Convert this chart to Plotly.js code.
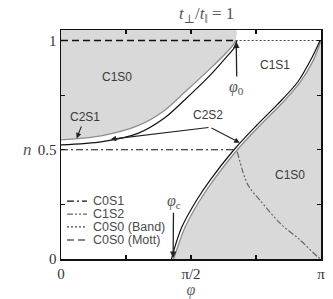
<!DOCTYPE html>
<html><head><meta charset="utf-8">
<script src="https://cdn.plot.ly/plotly-3.0.1.min.js"></script>
<style>html,body{margin:0;padding:0;background:#fff}#chart{width:333px;height:299px}</style>
</head><body><div id="chart"></div>
<script>
const PI = Math.PI;
const N_TOP = 1.048;
// upper-left C1S0 boundary (gray edge of shaded region) and the black line beside it
const phiUpperGray = [0, 0.5, 0.93, 1.25, 1.5, 1.8, 2.0, 2.08, 2.11];
const nUpperGray   = [0.545, 0.565, 0.61, 0.68, 0.765, 0.87, 0.945, 0.98, 1.0];
const phiUpperBlack = [0, 0.5, 0.93, 1.25, 1.5, 1.8, 2.0, 2.1, 2.125];
const nUpperBlack   = [0.522, 0.537, 0.575, 0.645, 0.73, 0.84, 0.925, 0.97, 1.0];
// lower-right C1S0 boundary (gray edge) and black line beside it
const phiRightGray = [1.36, 1.41, 1.5, 1.68, 1.84, 2.13, 2.4, 2.65, 2.89, 3.05, PI];
const nRightGray   = [0, 0.055, 0.146, 0.27, 0.36, 0.50, 0.61, 0.705, 0.81, 0.91, 1.0];
const phiRightBlack = [1.335, 1.38, 1.46, 1.64, 1.80, 2.09, 2.36, 2.61, 2.86, 3.03, 3.13];
const nRightBlack   = [0, 0.06, 0.146, 0.27, 0.36, 0.50, 0.61, 0.705, 0.81, 0.92, 1.0];
// phase lines
const phiC0S1 = [0, 2.09];
const nC0S1   = [0.5, 0.5];
const phiC1S2 = [2.13, 2.26, 2.405, 2.646, 2.888, 3.105, PI];
const nC1S2   = [0.49, 0.338, 0.269, 0.164, 0.087, 0.009, 0];
const phiMott = [0, 2.11];
const nMott   = [1, 1];
const phiBand = [2.11, PI];
const nBand   = [1, 1];
const seriesNames = ['C0S1', 'C1S2', 'C0S0 (Band)', 'C0S0 (Mott)'];
const xTickVals = [0, PI/2, PI];
const xTickText = ['0', 'π/2', 'π'];
const xMinorVals = [PI/4, 3*PI/4];
const yTickVals = [0, 0.5, 1];
const yTickText = ['0', '0.5', '1'];
const yMinorVals = [0.25, 0.75];
const titleText = '<i>t</i><sub>⊥</sub>/<i>t</i><sub>‖</sub> = 1';

const GRAYFILL = '#d9d9d9';
const GRAYLINE = '#8c8c8c';
const SM = 0.9;

const traces = [
  { // upper-left shaded region
    x: phiUpperGray.concat([phiUpperGray[phiUpperGray.length-1], 0]),
    y: nUpperGray.concat([N_TOP, N_TOP]),
    fill: 'toself', fillcolor: GRAYFILL, mode: 'lines',
    line: {width: 0, shape: 'spline', smoothing: SM}, hoverinfo: 'skip', showlegend: false
  },
  { x: phiUpperGray, y: nUpperGray, mode: 'lines', line: {color: GRAYLINE, width: 1.3, shape: 'spline', smoothing: SM}, showlegend: false },
  { x: phiUpperBlack, y: nUpperBlack, mode: 'lines', line: {color: '#111', width: 1.2, shape: 'spline', smoothing: SM}, showlegend: false },
  { // lower-right shaded region
    x: phiRightGray.concat([PI]),
    y: nRightGray.concat([0]),
    fill: 'toself', fillcolor: GRAYFILL, mode: 'lines',
    line: {width: 0, shape: 'spline', smoothing: SM}, hoverinfo: 'skip', showlegend: false
  },
  { x: phiRightGray, y: nRightGray, mode: 'lines', line: {color: GRAYLINE, width: 1.3, shape: 'spline', smoothing: SM}, showlegend: false },
  { x: phiRightBlack, y: nRightBlack, mode: 'lines', line: {color: '#111', width: 1.2, shape: 'spline', smoothing: SM}, showlegend: false },
  { x: phiC0S1, y: nC0S1, mode: 'lines', name: seriesNames[0], line: {color: '#111', width: 1.2, dash: '7px,3px,2px,3px'}, showlegend: false },
  { x: phiC1S2, y: nC1S2, mode: 'lines', name: seriesNames[1], line: {color: '#666', width: 1.2, dash: '6px,2px,2px,2px,2px,2px', shape: 'spline', smoothing: SM}, showlegend: false },
  { x: phiBand, y: nBand, mode: 'lines', name: seriesNames[2], line: {color: '#444', width: 1.2, dash: '2px,2px'}, showlegend: false },
  { x: phiMott, y: nMott, mode: 'lines', name: seriesNames[3], line: {color: '#111', width: 1.4, dash: '7px,4px'}, showlegend: false }
];

// manual compact legend (paper coordinates)
const legDash = ['7px,3px,2px,3px', '6px,2px,2px,2px,2px,2px', '2px,2px', '7px,4px'];
const legColor = ['#111', '#666', '#444', '#111'];
const legY = [0.253, 0.196, 0.140, 0.083];
const shapes = [];
const annotations = [];
for (let i = 0; i < seriesNames.length; i++) {
  shapes.push({type: 'line', xref: 'paper', yref: 'paper', x0: 0.023, x1: 0.10, y0: legY[i], y1: legY[i],
    line: {color: legColor[i], width: 1.2, dash: legDash[i]}});
  annotations.push({xref: 'paper', yref: 'paper', x: 0.117, y: legY[i], xanchor: 'left', yanchor: 'middle',
    text: seriesNames[i], showarrow: false, font: {family: 'Liberation Sans, Arial', size: 12.5, color: '#4a4a4a'}});
}
const labFont = {family: 'Liberation Sans, Arial', size: 12, color: '#3a3a3a'};
const greekFont = {family: 'Liberation Serif, Times New Roman', size: 16, color: '#555'};
annotations.push(
  // chart title
  {xref: 'paper', yref: 'paper', x: 0.446, y: 1.066, xanchor: 'left', yanchor: 'middle', text: titleText, showarrow: false,
    font: {family: 'Liberation Serif, DejaVu Serif, Times New Roman', size: 17, color: '#555'}},
  {x: 0.677, y: 0.831, text: 'C1S0', showarrow: false, font: labFont},
  {x: 2.586, y: 0.886, text: 'C1S1', showarrow: false, font: labFont},
  {x: 2.767, y: 0.384, text: 'C1S0', showarrow: false, font: labFont},
  {x: 1.776, y: 0.66, text: 'C2S2', showarrow: false, font: labFont},
  // labels with arrows
  {x: 0.19, y: 0.552, ax: 0.29, ay: 0.65, axref: 'x', ayref: 'y', text: 'C2S1', font: labFont,
    showarrow: true, arrowhead: 2, arrowsize: 1, arrowwidth: 1.1, arrowcolor: '#222', standoff: 0, startstandoff: 1},
  {x: 2.117, y: 0.995, ax: 2.125, ay: 0.785, axref: 'x', ayref: 'y', text: '<i>φ</i><sub>0</sub>', font: greekFont,
    showarrow: true, arrowhead: 2, arrowsize: 1, arrowwidth: 1.3, arrowcolor: '#222'},
  {x: 1.355, y: 0.005, ax: 1.36, ay: 0.262, axref: 'x', ayref: 'y', text: '<i>φ</i><sub>c</sub>', font: greekFont,
    showarrow: true, arrowhead: 2, arrowsize: 1, arrowwidth: 1.3, arrowcolor: '#222'},
  // C2S2 arrows
  {x: 0.6, y: 0.548, ax: 1.80, ay: 0.603, axref: 'x', ayref: 'y', text: '', showarrow: true, arrowhead: 2, arrowsize: 1, arrowwidth: 1.1, arrowcolor: '#222'},
  {x: 2.16, y: 0.532, ax: 1.80, ay: 0.603, axref: 'x', ayref: 'y', text: '', showarrow: true, arrowhead: 2, arrowsize: 1, arrowwidth: 1.1, arrowcolor: '#222'},
  // y axis label
  {xref: 'paper', yref: 'y', x: -0.155, y: 0.5, text: '<i>n</i>', showarrow: false, font: {family: 'Liberation Serif, Times New Roman', size: 17, color: '#555'}}
);

const tickFont = {family: 'Liberation Serif, Times New Roman', size: 15, color: '#333'};
const minorX = {tickvals: xMinorVals, ticks: 'inside', ticklen: 4, tickwidth: 1.2, tickcolor: '#111', showgrid: false};
const minorY = {tickvals: yMinorVals, ticks: 'inside', ticklen: 4, tickwidth: 1.2, tickcolor: '#111', showgrid: false};
const layout = {
  width: 333, height: 299,
  margin: {l: 61, r: 12, t: 30, b: 40},
  paper_bgcolor: '#fff', plot_bgcolor: '#fff',
  xaxis: {range: [0, PI], tickmode: 'array', tickvals: xTickVals, ticktext: xTickText, ticks: 'inside', ticklen: 4, tickwidth: 1.2,
    tickcolor: '#111', showline: true, linecolor: '#111', linewidth: 1.5, mirror: 'ticks', showgrid: false, zeroline: false,
    minor: minorX,
    tickfont: tickFont, title: {text: '<i>φ</i>', standoff: 6, font: {family: 'Liberation Serif, Times New Roman', size: 16, color: '#666'}}},
  yaxis: {range: [0, N_TOP], tickmode: 'array', tickvals: yTickVals, ticktext: yTickText, ticks: 'inside', ticklen: 4, tickwidth: 1.2,
    tickcolor: '#111', showline: true, linecolor: '#111', linewidth: 1.5, mirror: 'ticks', showgrid: false, zeroline: false,
    minor: minorY,
    tickfont: tickFont},
  shapes: shapes,
  annotations: annotations,
  showlegend: false
};
Plotly.newPlot('chart', traces, layout, {staticPlot: true, displayModeBar: false});
</script>
</body></html>
